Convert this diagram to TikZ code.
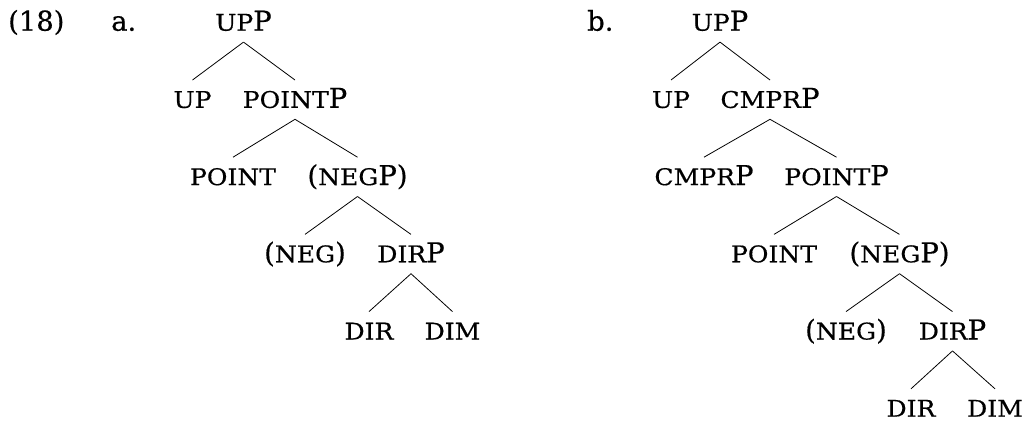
\documentclass[tikz,border=0pt]{standalone}
\usepackage{fontspec}
\setmainfont{DejaVu Serif}[FakeBold=0.5]
\newfontfamily\petitescaps[FakeStretch=1.09,FakeBold=0.5]{DejaVu Serif}
\usetikzlibrary{positioning,calc}
\newcommand\pc[1]{{\petitescaps\fontsize{23}{26}\selectfont #1}}

\begin{document}
\begin{tikzpicture}[x=1pt,y=1pt]
\tikzstyle{trait}=[line width=0.8pt]
\tikzstyle{noeud}=[anchor=base,inner xsep=0pt,inner ysep=7.2pt,text height=20.5pt,text depth=4pt,font=\fontsize{27.4}{30}\selectfont]
\tikzstyle{numero}=[anchor=base west,inner sep=0pt,font=\fontsize{27.4}{30}\selectfont]
\def\DistanceInterNiveaux{77.2}
\def\NiveauA{(-0)*\DistanceInterNiveaux-30.7}
\def\NiveauB{(-1)*\DistanceInterNiveaux-30.7}
\def\NiveauC{(-2)*\DistanceInterNiveaux-30.7}
\def\NiveauD{(-3)*\DistanceInterNiveaux-30.7}
\def\NiveauE{(-4)*\DistanceInterNiveaux-30.7}
\def\NiveauF{(-5)*\DistanceInterNiveaux-30.7}
\useasboundingbox (0,0) rectangle (1023,-421);
% numeros
\node[numero] (ex) at (8,{\NiveauA}) {(18)};
\node[numero] (exa) at (111,{\NiveauA}) {a.};
\node[numero] (exb) at (587,{\NiveauA}) {b.};
% arbre a
\node[noeud] (A) at (243.5,{\NiveauA}) {\pc{UP}P};
\node[noeud] (Aa) at (192.5,{\NiveauB}) {\pc{UP}};
\node[noeud] (Ab) at (295,{\NiveauB}) {\pc{POINT}P};
\node[noeud] (Aba) at (233,{\NiveauC}) {\pc{POINT}};
\node[noeud] (Abb) at (357.5,{\NiveauC}) {(\pc{NEG}P)};
\node[noeud] (Abba) at (305,{\NiveauD}) {(\pc{NEG})};
\node[noeud] (Abbb) at (411,{\NiveauD}) {\pc{DIR}P};
\node[noeud] (Abbba) at (369,{\NiveauE}) {\pc{DIR}};
\node[noeud] (Abbbb) at (452.5,{\NiveauE}) {\pc{DIM}};
\draw[trait] (A.south)--(Aa.north);
\draw[trait] (A.south)--(Ab.north);
\draw[trait] (Ab.south)--(Aba.north);
\draw[trait] (Ab.south)--(Abb.north);
\draw[trait] (Abb.south)--(Abba.north);
\draw[trait] (Abb.south)--(Abbb.north);
\draw[trait] (Abbb.south)--(Abbba.north);
\draw[trait] (Abbb.south)--(Abbbb.north);
% arbre b
\node[noeud] (B) at (720,{\NiveauA}) {\pc{UP}P};
\node[noeud] (Ba) at (671,{\NiveauB}) {\pc{UP}};
\node[noeud] (Bb) at (770,{\NiveauB}) {\pc{CMPR}P};
\node[noeud] (Bba) at (704,{\NiveauC}) {\pc{CMPR}P};
\node[noeud] (Bbb) at (836.5,{\NiveauC}) {\pc{POINT}P};
\node[noeud] (Bbba) at (774,{\NiveauD}) {\pc{POINT}};
\node[noeud] (Bbbb) at (899.5,{\NiveauD}) {(\pc{NEG}P)};
\node[noeud] (Bbbba) at (846,{\NiveauE}) {(\pc{NEG})};
\node[noeud] (Bbbbb) at (952.5,{\NiveauE}) {\pc{DIR}P};
\node[noeud] (Bbbbba) at (911,{\NiveauF}) {\pc{DIR}};
\node[noeud] (Bbbbbb) at (995,{\NiveauF}) {\pc{DIM}};
\draw[trait] (B.south)--(Ba.north);
\draw[trait] (B.south)--(Bb.north);
\draw[trait] (Bb.south)--(Bba.north);
\draw[trait] (Bb.south)--(Bbb.north);
\draw[trait] (Bbb.south)--(Bbba.north);
\draw[trait] (Bbb.south)--(Bbbb.north);
\draw[trait] (Bbbb.south)--(Bbbba.north);
\draw[trait] (Bbbb.south)--(Bbbbb.north);
\draw[trait] (Bbbbb.south)--(Bbbbba.north);
\draw[trait] (Bbbbb.south)--(Bbbbbb.north);
\end{tikzpicture}
\end{document}
